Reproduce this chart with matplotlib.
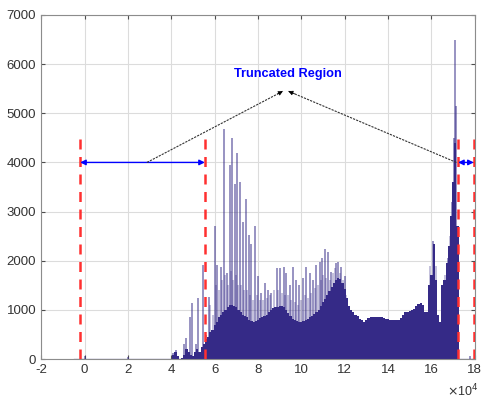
import numpy as np
import matplotlib.pyplot as plt

plt.rcParams['font.family'] = ['Liberation Sans', 'DejaVu Sans']
plt.rcParams['font.size'] = 8.5
plt.rcParams['axes.unicode_minus'] = False

# base envelope of the histogram (x in units of 1e4), step 0.1 from 4.0
base_x = np.round(np.arange(4.0, 17.35, 0.1), 2)
base_y = [10, 80, 150, 60, 10, 20, 80, 200, 150, 80,
          60, 150, 200, 150, 250, 300, 400, 450, 550, 600,
          700, 750, 850, 900, 950, 1000, 1050, 1100, 1100, 1080,
          1050, 1000, 950, 900, 870, 850, 800, 780, 760, 780,
          800, 830, 860, 880, 900, 950, 1000, 1030, 1050, 1060,
          1080, 1080, 1060, 1000, 930, 870, 820, 790, 770, 760,
          760, 780, 800, 820, 850, 880, 920, 960, 1000, 1080,
          1150, 1230, 1300, 1380, 1460, 1540, 1600, 1640, 1620, 1550,
          1420, 1250, 1080, 1000, 950, 900, 880, 820, 790, 760,
          800, 840, 850, 860, 860, 850, 860, 850, 830, 820,
          810, 800, 800, 790, 790, 800, 830, 900, 950, 960,
          970, 990, 1020, 1080, 1120, 1140, 1100, 960, 950, 1500,
          1700, 2350, 1600, 900, 760, 1500, 1600, 1950, 2300, 2900,
          3600, 4400, 2700, 0]

# tall narrow spikes
spike_x = [0.02, 2.0, 4.1, 4.23, 4.6, 4.69, 4.85, 4.95, 5.15, 5.25,
           5.47, 5.62, 5.72, 6.0, 6.13, 6.28, 6.43, 6.57, 6.69, 6.8,
           6.92, 7.03, 7.15, 7.3, 7.43, 7.57, 7.69, 7.88, 8.0, 8.15,
           8.34, 8.46, 8.62, 8.86, 9.02, 9.18, 9.31, 9.46, 9.62, 9.77,
           9.89, 10.08, 10.23, 10.38, 10.54, 10.69, 10.85, 10.95, 11.08, 11.23,
           11.38, 11.62, 11.69, 11.85, 12.0, 16.08, 16.75, 16.95, 17.02, 17.08,
           17.14, 17.77]
spike_y = [60, 50, 120, 190, 300, 420, 860, 1130, 300, 1240,
           1920, 480, 1270, 2700, 1920, 1880, 4680, 1750, 3950, 4500,
           3570, 4200, 3600, 2780, 3250, 2520, 2350, 2700, 1680, 1350,
           1540, 1400, 1340, 1850, 1850, 1880, 1740, 1500, 1880, 1610,
           1500, 1640, 1880, 1740, 1610, 1910, 1980, 2050, 2230, 2180,
           1780, 1950, 1980, 1880, 1680, 2400, 2050, 3200, 4500, 6500,
           5150, 60]

# lower in-between spikes (the fainter comb)
mid_x = [5.8, 5.92, 6.06, 6.2, 6.36, 6.5, 6.63, 6.75, 6.86, 6.98,
         7.09, 7.22, 7.36, 7.5, 7.63, 7.78, 7.94, 8.08, 8.24, 8.4,
         8.54, 8.74, 8.94, 9.1, 9.24, 9.38, 9.54, 9.7, 9.83, 9.98,
         10.15, 10.3, 10.46, 10.62, 10.77, 10.9, 11.02, 11.15, 11.3, 11.46,
         11.55, 11.77, 11.93, 12.08, 15.95, 16.2, 16.62, 16.85]
mid_y = [1100, 900, 1500, 1400, 1600, 1700, 1500, 1800, 1600, 1700,
         1500, 1500, 1400, 1400, 1300, 1200, 1300, 1200, 1200, 1250,
         1300, 1400, 1400, 1350, 1300, 1300, 1200, 1150, 1100, 1200,
         1300, 1250, 1350, 1450, 1500, 1600, 1700, 1650, 1600, 1750,
         1850, 1750, 1600, 1300, 1900, 1900, 1700, 2500]

cut_x = [-0.2, 5.55, 17.23, 17.95]

bar_col = '#352a87'

fig = plt.figure(figsize=(4.84, 4.0), dpi=100)
ax = fig.add_axes([0.085, 0.1025, 0.896, 0.86])

ax.bar(base_x, base_y, width=0.1, color=bar_col, edgecolor='none', zorder=2)
ax.vlines(mid_x, 0, mid_y, color=bar_col, alpha=0.35, lw=1.2, zorder=2)
ax.vlines(spike_x, 0, spike_y, color=bar_col, alpha=0.55, lw=1.3, zorder=2)
ax.plot([-0.5, 17.9], [0, 0], color=bar_col, lw=1, alpha=0.5, zorder=2)

ax.vlines(cut_x, 0, 4500, colors='#ff3030', linestyles=(0, (4, 3)), lw=1.8, zorder=4)

blue_arrow = dict(arrowstyle='<|-|>', color='#0000ff', lw=1, mutation_scale=8,
                  shrinkA=0, shrinkB=0)
ax.annotate('', xy=(cut_x[0], 4000), xytext=(cut_x[1], 4000), arrowprops=blue_arrow, zorder=5)
ax.annotate('', xy=(cut_x[2], 4000), xytext=(cut_x[3], 4000), arrowprops=blue_arrow, zorder=5)

# pointer lines to the label
ax.plot([2.88, 9.15], [4000, 5450], color='#333333', lw=0.8, ls=(0, (2, 1)), zorder=5)
ax.plot([17.15, 9.4], [4000, 5450], color='#333333', lw=0.8, ls=(0, (2, 1)), zorder=5)
head = dict(arrowstyle='-|>', color='black', lw=0.5, mutation_scale=7, shrinkA=0, shrinkB=0)
ax.annotate('', xy=(9.15, 5450), xytext=(8.9, 5392), arrowprops=head, zorder=5)
ax.annotate('', xy=(9.4, 5450), xytext=(9.7, 5394), arrowprops=head, zorder=5)

ax.text(9.38, 5800, 'Truncated Region', color='#0000ff', fontweight='bold',
        ha='center', va='center', fontsize=9.2, zorder=6)

ax.set_xlim(-2, 18)
ax.set_ylim(0, 7000)
ax.set_xticks(np.arange(-2, 19, 2))
ax.set_yticks(np.arange(0, 7001, 1000))
ax.grid(True, color='#dcdcdc', lw=0.8, zorder=0)
ax.set_axisbelow(True)
ax.tick_params(direction='in', length=3, top=True, right=True,
               colors='#4d4d4d', labelcolor='#333333', labelsize=9.5)
for s in ax.spines.values():
    s.set_color('#8c8c8c')
    s.set_linewidth(0.8)

ax.text(0.972, -0.093, r'$\times$10$^4$', transform=ax.transAxes,
        ha='center', va='center', fontsize=9, color='#333333')

fig.savefig('out.png', dpi=100)
